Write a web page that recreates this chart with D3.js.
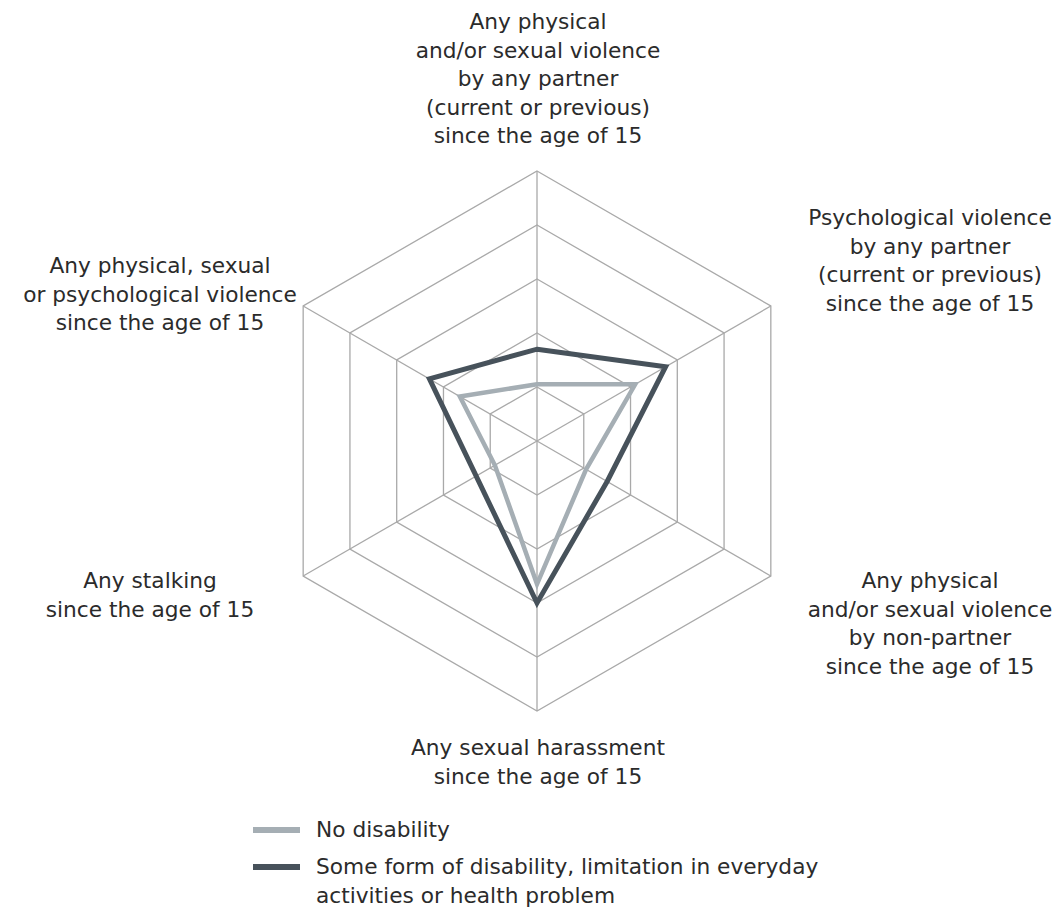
<!DOCTYPE html>
<html>
<head>
<meta charset="utf-8">
<script src="https://cdn.jsdelivr.net/npm/d3@7"></script>
<style>
  body { margin: 0; background: #fff; }
  svg text { font-family: "DejaVu Sans", "Noto Sans", sans-serif; fill: #2b2b2b; }
</style>
</head>
<body>
<svg id="chart" width="1060" height="910"></svg>
<script>
// axis labels, clockwise from the top
const categories = [
  ['Any physical', 'and/or sexual violence', 'by any partner', '(current or previous)', 'since the age of 15'],
  ['Psychological violence', 'by any partner', '(current or previous)', 'since the age of 15'],
  ['Any physical', 'and/or sexual violence', 'by non-partner', 'since the age of 15'],
  ['Any sexual harassment', 'since the age of 15'],
  ['Any stalking', 'since the age of 15'],
  ['Any physical, sexual', 'or psychological violence', 'since the age of 15']
];
const noDisability = [21, 42, 21, 53, 18, 33];
const withDisability = [34, 55, 30, 60, 26, 46];
const seriesNames = ['No disability', 'Some form of disability, limitation in everyday|activities or health problem'];
const ringTicks = [20, 40, 60, 80, 100];

const width = 1060, height = 910;
const cx = 537, cy = 441;
const svg = d3.select('#chart');

const r = d3.scaleLinear().domain([0, 100]).range([0, 270]);
const angle = i => i * Math.PI / 3;
const pt = (v, i) => [cx + r(v) * Math.sin(angle(i)), cy - r(v) * Math.cos(angle(i))];

const line = d3.line().curve(d3.curveLinearClosed);

// grid
const grid = svg.append('g').attr('class', 'grid');
grid.selectAll('path.ring')
  .data(ringTicks)
  .enter().append('path')
  .attr('class', 'ring')
  .attr('d', t => line(categories.map((c, i) => pt(t, i))))
  .attr('fill', 'none')
  .attr('stroke', '#a9a9a9')
  .attr('stroke-width', 1.3);

grid.selectAll('line.spoke')
  .data(categories)
  .enter().append('line')
  .attr('class', 'spoke')
  .attr('x1', cx).attr('y1', cy)
  .attr('x2', (d, i) => pt(100, i)[0])
  .attr('y2', (d, i) => pt(100, i)[1])
  .attr('stroke', '#a9a9a9')
  .attr('stroke-width', 1.3);

// series
const series = [
  { values: noDisability, color: '#a5aeb4', w: 4.5 },
  { values: withDisability, color: '#47525b', w: 5 }
];
svg.selectAll('path.series')
  .data(series)
  .enter().append('path')
  .attr('class', 'series')
  .attr('d', s => line(s.values.map((v, i) => pt(v, i))))
  .attr('fill', 'none')
  .attr('stroke', s => s.color)
  .attr('stroke-width', s => s.w)
  .attr('stroke-linejoin', 'miter');

// labels
const labelPos = [[538, 29], [930, 225], [930, 588], [538, 755], [150, 588], [160, 273]];
const lh = 28.5;
svg.selectAll('text.label')
  .data(categories)
  .enter().append('text')
  .attr('class', 'label')
  .attr('text-anchor', 'middle')
  .attr('font-size', 21.7)
  .each(function (d, i) {
    d3.select(this).selectAll('tspan')
      .data(d)
      .enter().append('tspan')
      .attr('x', labelPos[i][0])
      .attr('y', (t, j) => labelPos[i][1] + j * lh)
      .text(t => t);
  });

// legend
const legend = svg.append('g').attr('transform', 'translate(253,830)');
series.forEach((s, k) => {
  const g = legend.append('g').attr('transform', `translate(0,${k * 37})`);
  g.append('line')
    .attr('x1', 0).attr('x2', 47)
    .attr('stroke', s.color)
    .attr('stroke-width', 6);
  const txt = g.append('text').attr('font-size', 21.7);
  seriesNames[k].split('|').forEach((t, j) => {
    txt.append('tspan').attr('x', 63).attr('y', 7 + j * 29).text(t);
  });
});
</script>
</body>
</html>
